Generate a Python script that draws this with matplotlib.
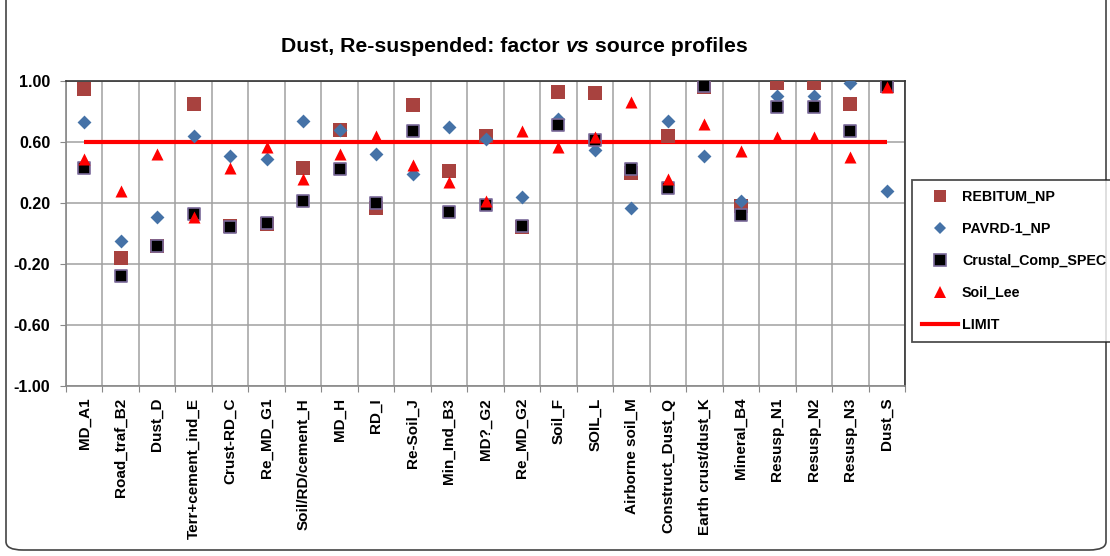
import matplotlib
matplotlib.use('Agg')
import matplotlib.pyplot as plt
from matplotlib.lines import Line2D
from matplotlib.patches import FancyBboxPatch
import numpy as np

plt.rcParams['font.family'] = ['Liberation Sans', 'DejaVu Sans']

# categories (source profiles)
categories = ['MD_A1', 'Road_traf_B2', 'Dust_D', 'Terr+cement_ind_E', 'Crust-RD_C',
              'Re_MD_G1', 'Soil/RD/cement_H', 'MD_H', 'RD_I', 'Re-Soil_J',
              'Min_Ind_B3', 'MD?_G2', 'Re_MD_G2', 'Soil_F', 'SOIL_L',
              'Airborne soil_M', 'Construct_Dust_Q', 'Earth crust/dust_K',
              'Mineral_B4', 'Resusp_N1', 'Resusp_N2', 'Resusp_N3', 'Dust_S']

# series values
rebitum_np = [0.95, -0.16, -0.08, 0.85, 0.05, 0.06, 0.43, 0.68, 0.17, 0.84,
              0.41, 0.64, 0.04, 0.93, 0.92, 0.40, 0.64, 0.96, 0.18, 0.99,
              0.99, 0.85, 0.97]
pavrd_1_np = [0.73, -0.05, 0.11, 0.64, 0.51, 0.49, 0.74, 0.68, 0.52, 0.39,
              0.70, 0.62, 0.24, 0.75, 0.55, 0.17, 0.74, 0.51, 0.21, 0.90,
              0.90, 0.99, 0.28]
crustal_comp_spec = [0.43, -0.28, -0.08, 0.13, 0.04, 0.07, 0.21, 0.42, 0.20, 0.67,
                     0.14, 0.19, 0.05, 0.71, 0.61, 0.42, 0.30, 0.97, 0.12, 0.83,
                     0.83, 0.67, 0.97]
soil_lee = [0.49, 0.28, 0.52, 0.11, 0.43, 0.57, 0.36, 0.52, 0.64, 0.45,
            0.34, 0.21, 0.67, 0.57, 0.63, 0.86, 0.36, 0.72, 0.54, 0.63,
            0.63, 0.50, 0.96]
limit = [0.60] * len(categories)

yticks = [-1.0, -0.6, -0.2, 0.2, 0.6, 1.0]

fig = plt.figure(figsize=(11.1, 5.56), dpi=100)
ax = fig.add_axes([66 / 1110, 1 - 386 / 556, 839 / 1110, 305 / 556])

x = np.arange(len(categories))

ax.plot(x, limit, color='#FF0000', lw=3, zorder=2, solid_capstyle='butt')
ax.scatter(x, rebitum_np, marker='s', s=90, color='#A8423F', zorder=3, linewidths=0)
ax.scatter(x, pavrd_1_np, marker='D', s=50, color='#4572A7', zorder=4, linewidths=0)
ax.scatter(x, crustal_comp_spec, marker='s', s=80, color='black', edgecolors='#7A6A9A',
           linewidths=1.2, zorder=5)
ax.scatter(x, soil_lee, marker='^', s=75, color='#FF0000', zorder=6, linewidths=0)

ax.set_xlim(-0.5, len(categories) - 0.5)
ax.set_ylim(-1, 1)
ax.set_yticks(yticks)
ax.set_yticklabels(['%.2f' % v for v in yticks], fontsize=11.5, fontweight='bold')
ax.set_xticks(np.arange(len(categories) + 1) - 0.5)
ax.set_xticklabels([])
ax.set_xticks(x, minor=True)
ax.set_xticklabels(categories, minor=True, rotation=90, fontsize=11, fontweight='bold')
ax.tick_params(axis='x', which='minor', length=0, pad=8.5)
ax.tick_params(axis='x', which='major', length=4.3, color='#888888')
ax.tick_params(axis='y', length=4.3, color='#888888', pad=7)
ax.grid(True, which='major', color='#A0A0A0', lw=1.1)
ax.set_axisbelow(True)
for side in ['left', 'bottom']:
    ax.spines[side].set_color('#888888')
    ax.spines[side].set_linewidth(1.2)
for side in ['top', 'right']:
    ax.spines[side].set_color('#333333')
    ax.spines[side].set_linewidth(1.2)

# title with italic "vs"
t1 = fig.text(281 / 1110, 1 - 52 / 556, 'Dust, Re-suspended: factor ', fontsize=15.3,
              fontweight='bold', ha='left', va='baseline')
t2 = ax.annotate('vs', xy=(1, 0), xycoords=t1, fontsize=15.3, fontweight='bold',
                 style='italic', ha='left', va='bottom')
ax.annotate(' source profiles', xy=(1, 0), xycoords=t2, fontsize=15.3, fontweight='bold',
            ha='left', va='bottom')

handles = [
    Line2D([], [], ls='none', marker='s', ms=9, color='#A8423F', mew=0),
    Line2D([], [], ls='none', marker='D', ms=6.5, color='#4572A7', mew=0),
    Line2D([], [], ls='none', marker='s', ms=8, mfc='black', mec='#7A6A9A', mew=1.2),
    Line2D([], [], ls='none', marker='^', ms=8.5, color='#FF0000', mew=0),
    Line2D([], [], color='#FF0000', lw=3),
]
labels = ['REBITUM_NP', 'PAVRD-1_NP', 'Crustal_Comp_SPEC', 'Soil_Lee', 'LIMIT']
leg = fig.legend(handles, labels, loc='upper left', bbox_to_anchor=(912 / 1110, 1 - 180 / 556),
                 prop={'weight': 'bold', 'size': 10.25}, frameon=True, fancybox=False,
                 labelspacing=1.27, handlelength=2.55, handletextpad=0.28, borderpad=0.68,
                 borderaxespad=0)
leg.get_frame().set_edgecolor('#222222')
leg.get_frame().set_linewidth(1.3)

# outer chart border
border = FancyBboxPatch((6 / 1110, 6 / 556), 1100 / 1110, 560 / 556,
                        boxstyle='round,pad=0,rounding_size=0.015', transform=fig.transFigure,
                        fill=False, edgecolor='#444444', lw=1.2, clip_on=False)
fig.patches.append(border)

fig.savefig('out.png', dpi=100)
